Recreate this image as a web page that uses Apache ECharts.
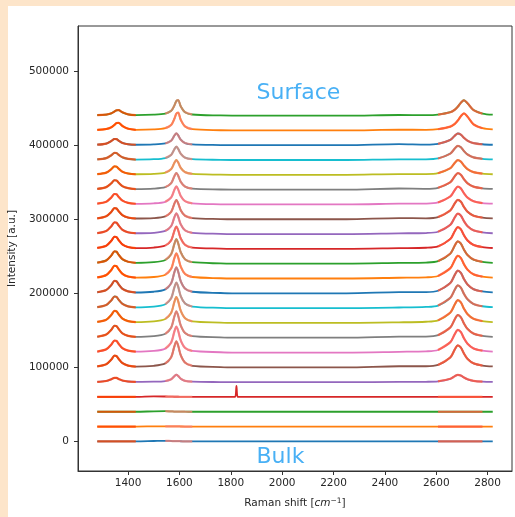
<!DOCTYPE html>
<html>
<head>
<meta charset="utf-8">
<script src="https://cdn.jsdelivr.net/npm/echarts@6/dist/echarts.min.js"></script>
<style>
html, body { margin: 0; padding: 0; background: #fde5ca; }
#panel { position: absolute; left: 8px; top: 6px; width: 507px; height: 511px; background: #fff; }
#main { position: absolute; left: 0; top: 0; width: 515px; height: 517px; }
</style>
</head>
<body>
<div id="panel"></div>
<div id="main"></div>
<script>
// Raman shift sample points (cm-1), shared by every spectrum
var ramanShift = [1280, 1315, 1335, 1347, 1355, 1363, 1378, 1400, 1430, 1500,
                  1545, 1568, 1580, 1588, 1595, 1605, 1622, 1650, 1760, 1805,
                  1817, 1822, 1827, 1840, 2000, 2250, 2455, 2560, 2607, 2655,
                  2672, 2684, 2696, 2708, 2722, 2745, 2780, 2820];

// intensity above each trace's own baseline, in thousands (bulk -> surface)
var spectra = [
    [0,0,0,0,0,0,0,0,0, 0.5, 0.8,0.5,0.3,0.3,0.3,0.2,0.1,0,0, 0,0,0,0,0,0,0, 0, 0,0,0,0,0,0,0,0,0,0,0],
    [0,0,0,0,0,0,0,0,0, 0.3, 0.4,0.3,0.2,0.2,0.2,0.1,0,0,0, 0,0,0,0,0,0,0, 0, 0,0,0,0,0,0,0,0,0,0,0],
    [0,0,0,0,0,0,0,0,0, 0.6, 0.8,0.5,0.3,0.3,0.3,0.2,0.1,0,0, 0,0,0,0,0,0,0, 0, 0,0,0,0,0,0,0,0,0,0,0],
    [0,0,0,0,0,0,0,0,0, 0.8, 0.6,0.4,0.3,0.3,0.3,0.2,0.1,0,0, 0,0,15,0,0,0,0, 0, 0,0,0,0,0,0,0,0,0,0,0],
    [0.5,1.6,4.0,5.9,5.7,4.3,2.2,0.9,0.4, 0.6, 1.5,3.9,8.0,10,8.4,4.7,1.8,0.6,0.1, 0,0,0,0,0,0,0, 0.3, 0.5,1.1,4.5,8.0,9.9,8.9,6.2,3.8,1.8,0.8,0.4],
    [1.3,4.2,10.6,15.7,15.2,11.5,5.8,2.4,1.0, 2.1, 5.3,13.7,28.0,35,29.4,16.5,6.3,2.1,0.4, 0,0,0,0,0,0,0, 1.5, 1.5,3.3,13.5,24.0,29.7,26.7,18.6,11.4,5.4,2.4,1.2],
    [1.3,4.3,10.9,16.2,15.7,11.9,5.9,2.5,1.1, 2.1, 5.3,13.7,28.0,35,29.4,16.5,6.3,2.1,0.4, 0,0,0,0,0,0,0, 1.0, 1.6,3.4,14.0,24.8,30.7,27.6,19.2,11.8,5.6,2.5,1.2],
    [1.3,4.3,10.9,16.2,15.7,11.9,5.9,2.5,1.1, 2.1, 5.3,13.8,28.4,35.5,29.8,16.7,6.4,2.1,0.4, 0,0,0,0,0,0,0, 1.5, 1.6,3.4,14.0,24.8,30.7,27.6,19.2,11.8,5.6,2.5,1.2],
    [1.3,4.3,10.9,16.2,15.7,11.9,5.9,2.5,1.1, 2.1, 5.3,13.7,28.0,35,29.4,16.5,6.3,2.1,0.4, 0,0,0,0,0,0,0, 0.8, 1.6,3.4,14.0,24.8,30.7,27.6,19.2,11.8,5.6,2.5,1.2],
    [1.3,4.2,10.6,15.7,15.2,11.5,5.8,2.4,1.0, 2.0, 5.2,13.5,27.6,34.5,29.0,16.2,6.2,2.1,0.3, 0,0,0,0,0,0,0, 0.8, 1.6,3.4,14.0,24.8,30.7,27.6,19.2,11.8,5.6,2.5,1.2],
    [1.4,4.4,11.2,16.7,16.2,12.2,6.1,2.6,1.1, 2.1, 5.3,13.7,28.0,35,29.4,16.5,6.3,2.1,0.4, 0,0,0,0,0,0,0, 1.5, 1.6,3.4,14.0,24.8,30.7,27.6,19.2,11.8,5.6,2.5,1.2],
    [1.4,4.6,11.6,17.2,16.6,12.6,6.3,2.6,1.1, 2.0, 5.1,13.3,27.2,34,28.6,16.0,6.1,2.0,0.3, 0,0,0,0,0,0,0, 1.0, 1.6,3.4,14.0,24.8,30.7,27.6,19.2,11.8,5.6,2.5,1.2],
    [1.4,4.4,11.2,16.7,16.2,12.2,6.1,2.6,1.1, 2.0, 5.0,12.9,26.4,33,27.7,15.5,5.9,2.0,0.3, 0,0,0,0,0,0,0, 1.0, 1.5,3.4,13.7,24.4,30.2,27.1,18.9,11.6,5.5,2.4,1.2],
    [1.3,4.3,11.0,16.4,15.9,12.0,6.0,2.5,1.1, 1.8, 4.5,11.7,24.0,30,25.2,14.1,5.4,1.8,0.3, 0,0,0,0,0,0,0, 1.0, 1.5,3.3,13.4,23.8,29.4,26.4,18.4,11.3,5.3,2.4,1.2],
    [1.3,4.2,10.7,15.9,15.4,11.7,5.8,2.4,1.1, 1.7, 4.2,10.9,22.4,28,23.5,13.2,5.0,1.7,0.3, 0,0,0,0,0,0,0, 1.0, 1.4,3.1,12.6,22.4,27.7,24.9,17.4,10.6,5.0,2.2,1.1],
    [1.2,4.0,10.1,15.0,14.5,11.0,5.5,2.3,1.0, 1.6, 3.9,10.1,20.8,26,21.8,12.2,4.7,1.6,0.3, 0,0,0,0,0,0,0, 1.5, 1.3,2.9,12.0,21.3,26.3,23.7,16.5,10.1,4.8,2.1,1.1],
    [1.2,3.7,9.5,14.1,13.7,10.4,5.2,2.2,0.9, 1.5, 3.6,9.5,19.4,24.3,20.4,11.4,4.4,1.5,0.2, 0,0,0,0,0,0,0, 1.0, 1.2,2.7,10.9,19.4,24.1,21.6,15.1,9.2,4.4,1.9,1.0],
    [1.0,3.4,8.6,12.7,12.4,9.4,4.7,2.0,0.8, 1.4, 3.4,8.8,18.0,22.5,18.9,10.6,4.1,1.4,0.2, 0,0,0,0,0,0,0, 1.5, 1.1,2.5,10.1,18.0,22.3,20.0,14.0,8.6,4.1,1.8,0.9],
    [0.9,3.0,7.7,11.5,11.1,8.4,4.2,1.8,0.8, 1.2, 3.0,7.8,16.0,20,16.8,9.4,3.6,1.2,0.2, 0,0,0,0,0,0,0, 1.0, 1.0,2.2,9.0,16.0,19.8,17.8,12.4,7.6,3.6,1.6,0.8],
    [0.8,2.6,6.5,9.7,9.4,7.1,3.6,1.5,0.6, 1.1, 2.7,7.0,14.4,18,15.1,8.5,3.2,1.1,0.2, 0,0,0,0,0,0,0, 1.0, 1.0,2.1,8.7,15.5,19.2,17.3,12.0,7.4,3.5,1.6,0.8],
    [0.7,2.2,5.7,8.4,8.2,6.2,3.1,1.3,0.6, 1.0, 2.4,6.2,12.8,16,13.4,7.5,2.9,1.0,0.2, 0,0,0,0,0,0,0, 1.5, 0.8,1.8,7.2,12.8,15.8,14.2,9.9,6.1,2.9,1.3,0.6],
    [0.7,1.9,4.3,7.5,9.9,10.2,6.0,2.3,0.8, 1.4, 3.1,7.4,15.4,22.6,24,14.4,5.3,1.7,0.2, 0,0,0,0,0,0,0, 1.0, 0.8,1.6,5.1,8.7,13.3,19.3,23.0,18.4,8.3,3.0,1.4],
    [0.5,1.4,3.1,5.5,7.2,7.4,4.4,1.7,0.6, 1.2, 2.7,6.5,13.4,19.7,21,12.6,4.6,1.5,0.2, 0,0,0,0,0,0,0, 0.8, 0.7,1.4,4.6,7.9,12.0,17.4,20.7,16.6,7.5,2.7,1.2]
];
var offsetStep = 20000;

// fitted peak windows: D, G, 2D
var fitRanges = [[1280, 1430], [1545, 1650], [2607, 2780]];
var fitColors = ['rgba(255,69,0,0.8)', 'rgba(250,128,114,0.75)', 'rgba(255,90,60,0.8)'];
var lineColors = ['#1f77b4', '#ff7f0e', '#2ca02c', '#d62728', '#9467bd',
                  '#8c564b', '#e377c2', '#7f7f7f', '#bcbd22', '#17becf'];

var xTicks = [1400, 1600, 1800, 2000, 2200, 2400, 2600, 2800];
var yTicks = [0, 100000, 200000, 300000, 400000, 500000];
var notes = [
    { name: 'Surface', value: [1900, 470700] },
    { name: 'Bulk', value: [1900, -22000] }
];

var font = 'DejaVu Sans';
var ink = '#262626';

var series = [];
spectra.forEach(function (row, i) {
    var pts = ramanShift.map(function (x, j) { return [x, i * offsetStep + row[j] * 1000]; });
    series.push({
        type: 'line', data: pts, showSymbol: false, smooth: 0.3, silent: true,
        lineStyle: { color: lineColors[i % 10], width: 1.8 }
    });
    fitRanges.forEach(function (r, k) {
        series.push({
            type: 'line', showSymbol: false, smooth: 0.3, silent: true,
            data: pts.filter(function (p) { return p[0] >= r[0] && p[0] <= r[1]; }),
            lineStyle: { color: fitColors[k], width: 2.2 }
        });
    });
});
series.push({
    type: 'scatter', data: notes, symbolSize: 0, silent: true,
    label: {
        show: true, formatter: '{b}', position: [0, 0], align: 'left', verticalAlign: 'middle',
        color: '#1a9cf2', fontSize: 22, fontFamily: font
    }
});

function plain(v) { return String(v); }

var chart = echarts.init(document.getElementById('main'));
chart.setOption({
    animation: false,
    grid: {
        left: 78, right: 3, top: 26, bottom: 46, containLabel: false, outerBoundsMode: 'none',
        show: true, borderColor: '#333', borderWidth: 1
    },
    xAxis: {
        type: 'value', min: 1205, max: 2895,
        name: 'Raman shift [{it|cm}{sup|−1}]', nameLocation: 'middle', nameGap: 26,
        nameTextStyle: {
            fontSize: 10.5, color: ink, fontFamily: font,
            rich: {
                it: { fontSize: 10.5, color: ink, fontFamily: font, fontStyle: 'italic' },
                sup: { fontSize: 7.5, color: ink, fontFamily: font, verticalAlign: 'top', padding: [0, 0, 4, 0] }
            }
        },
        axisLine: { onZero: false, lineStyle: { color: '#333' } },
        axisTick: { customValues: xTicks, length: 4, lineStyle: { color: '#333' } },
        axisLabel: { customValues: xTicks, formatter: plain, fontSize: 10.5, color: ink, fontFamily: font, margin: 7 },
        splitLine: { show: false }
    },
    yAxis: {
        type: 'value', min: -40000, max: 561000,
        name: 'Intensity [a.u.]', nameLocation: 'middle', nameRotate: 90, nameGap: 58,
        nameTextStyle: { fontSize: 10.5, color: ink, fontFamily: font },
        axisLine: { show: true, onZero: false, lineStyle: { color: '#333' } },
        axisTick: { show: true, customValues: yTicks, length: 4, lineStyle: { color: '#333' } },
        axisLabel: { customValues: yTicks, formatter: plain, fontSize: 10.5, color: ink, fontFamily: font, margin: 9 },
        splitLine: { show: false }
    },
    series: series
});
</script>
</body>
</html>
